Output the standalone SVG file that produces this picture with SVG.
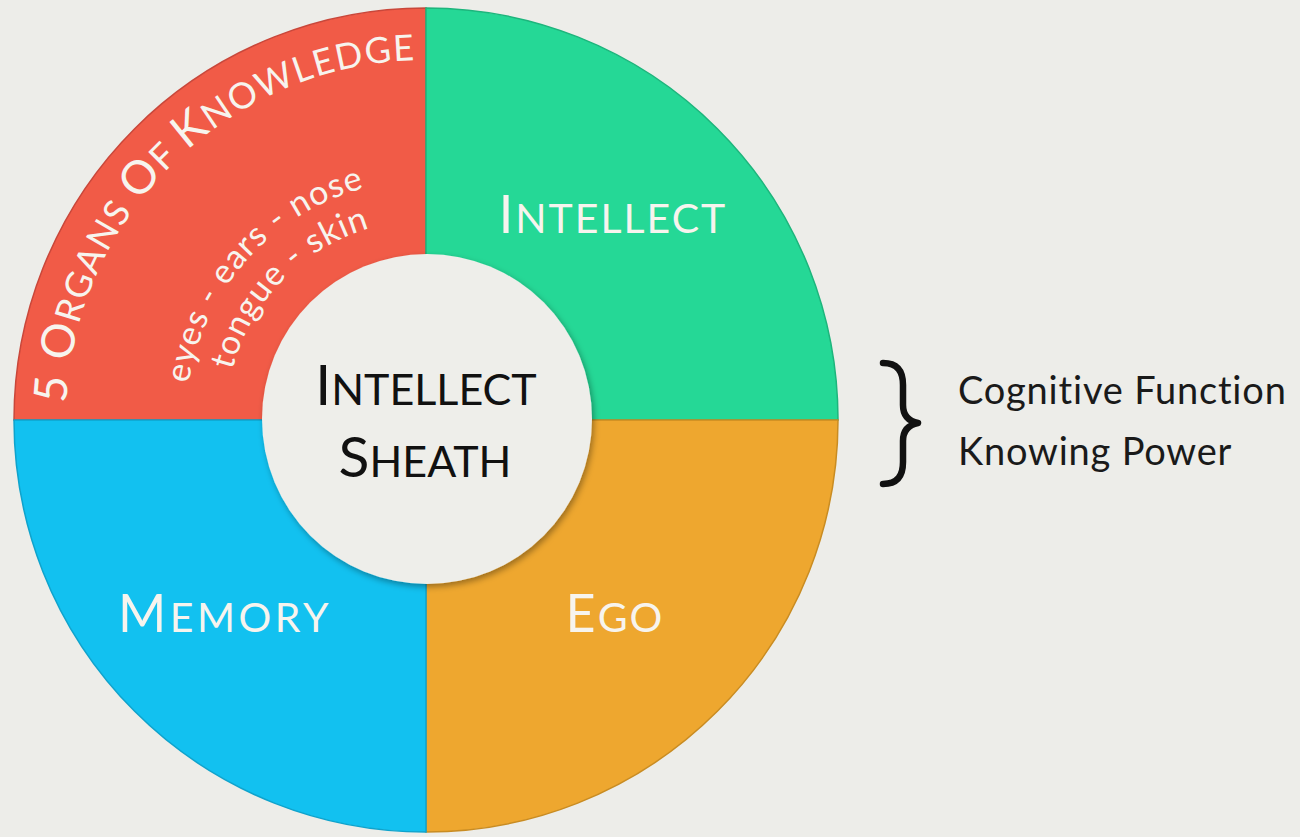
<svg xmlns="http://www.w3.org/2000/svg" width="1300" height="837" viewBox="0 0 1300 837">
<defs>
<style>
.q{stroke-width:1.5}
.wt{fill:#F7F4EE;font-family:Lato,"Open Sans",sans-serif}
.bk{fill:#111;font-family:Lato,"Open Sans",sans-serif}
.side{fill:#1a1a1a;font-family:Lato,"Open Sans",sans-serif;font-size:38px;letter-spacing:0.8px}
.lbl{letter-spacing:2px}
</style>
<filter id="sh" x="-10%" y="-10%" width="125%" height="125%">
<feDropShadow dx="2" dy="3" stdDeviation="3" flood-color="#000" flood-opacity="0.35"/>
</filter>
<path id="arcOuter" d="M 66 420 A 360 360 0 0 1 606 108.2"/>
<path id="arcMid" d="M 186 420 A 240 240 0 0 1 546 212.2"/>
<path id="arcIn" d="M 226 420 A 200 200 0 0 1 526 246.8"/>
</defs>
<rect width="1300" height="837" fill="#EDEDE9"/>
<g id="organs">
<path class="q" d="M 426 420 L 14 420 A 412 412 0 0 1 426 8 Z" fill="#F15B47" stroke="#C9473A"/>
<text class="wt" letter-spacing="1.5"><textPath href="#arcOuter" startOffset="286" text-anchor="middle"><tspan font-size="46">5 O</tspan><tspan font-size="36">RGANS </tspan><tspan font-size="46">O</tspan><tspan font-size="36">F </tspan><tspan font-size="46">K</tspan><tspan font-size="36">NOWLEDGE</tspan></textPath></text>
<text class="wt" font-size="34" letter-spacing="1"><textPath href="#arcMid" startOffset="176" text-anchor="middle">eyes - ears - nose</textPath></text>
<text class="wt" font-size="34" letter-spacing="1"><textPath href="#arcIn" startOffset="154" text-anchor="middle">tongue - skin</textPath></text>
</g>
<g id="intellect">
<path class="q" d="M 426 420 L 426 8 A 412 412 0 0 1 838 420 Z" fill="#25D896" stroke="#1DB57C"/>
<text class="wt lbl" x="613" y="233" text-anchor="middle"><tspan font-size="52">I</tspan><tspan font-size="41">NTELLECT</tspan></text>
</g>
<g id="ego">
<path class="q" d="M 426 420 L 838 420 A 412 412 0 0 1 426 832 Z" fill="#EEA72F" stroke="#C98C22"/>
<text class="wt lbl" x="615" y="632" text-anchor="middle"><tspan font-size="52">E</tspan><tspan font-size="41">GO</tspan></text>
</g>
<g id="memory">
<path class="q" d="M 426 420 L 426 832 A 412 412 0 0 1 14 420 Z" fill="#12C1F0" stroke="#0FA3CC"/>
<text class="wt" letter-spacing="3.5" x="225" y="632" text-anchor="middle"><tspan font-size="52">M</tspan><tspan font-size="41">EMORY</tspan></text>
</g>
<g id="sheath">
<circle cx="427" cy="419" r="165" fill="#EEEEEA" filter="url(#sh)"/>
<text class="bk" x="426" y="405" text-anchor="middle"><tspan font-size="57">I</tspan><tspan font-size="43">NTELLECT</tspan></text>
<text class="bk" x="425" y="477" text-anchor="middle"><tspan font-size="57">S</tspan><tspan font-size="43">HEATH</tspan></text>
</g>
<g id="connectors">
<path d="M 883 363 C 898 363, 903 372, 903 385 L 903 405 C 903 415, 908 421, 918 423 C 908 425, 903 431, 903 441 L 903 462 C 903 475, 898 484, 883 484" fill="none" stroke="#111" stroke-width="6.5" stroke-linecap="round" stroke-linejoin="round"/>
</g>
<g id="labels">
<text class="side" x="958" y="404">Cognitive Function</text>
<text class="side" x="958" y="465">Knowing Power</text>
</g>
</svg>
